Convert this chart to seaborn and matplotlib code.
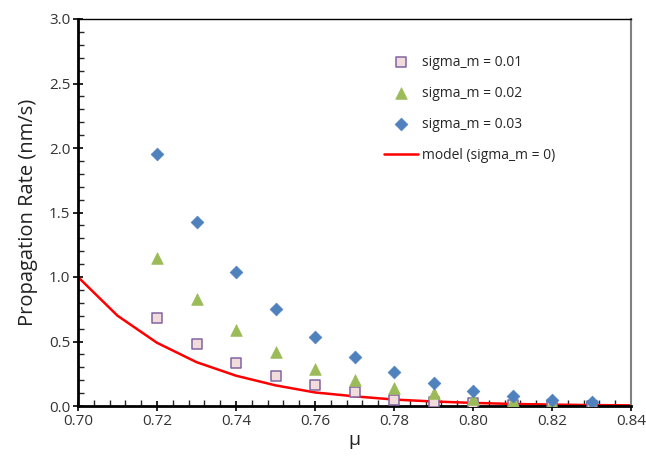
import matplotlib
matplotlib.use("Agg")
import matplotlib.pyplot as plt
from matplotlib.ticker import MultipleLocator, FormatStrFormatter
import seaborn as sns
import pandas as pd

mu_points = [0.72, 0.73, 0.74, 0.75, 0.76, 0.77, 0.78, 0.79, 0.80, 0.81, 0.82, 0.83]
rate_s001 = [0.68, 0.48, 0.335, 0.23, 0.16, 0.105, 0.05, 0.03, 0.02, 0.01, 0.005, 0.003]
rate_s002 = [1.15, 0.83, 0.59, 0.42, 0.29, 0.20, 0.14, 0.10, 0.055, 0.04, 0.02, 0.01]
rate_s003 = [1.95, 1.43, 1.04, 0.75, 0.535, 0.38, 0.26, 0.18, 0.12, 0.08, 0.05, 0.03]

mu_model = [0.70, 0.71, 0.72, 0.73, 0.74, 0.75, 0.76, 0.77, 0.78, 0.79, 0.80, 0.81, 0.82, 0.83, 0.84]
rate_model = [1.0, 0.70, 0.49, 0.34, 0.235, 0.16, 0.105, 0.075, 0.05, 0.035, 0.024, 0.016, 0.011, 0.007, 0.005]

labels = ["sigma_m = 0.01", "sigma_m = 0.02", "sigma_m = 0.03"]
model_label = "model (sigma_m = 0)"

sns.set_theme(style="white")
plt.rcParams['font.family'] = ['Open Sans', 'DejaVu Sans']

fig = plt.figure(figsize=(6.46, 4.57), dpi=100)
ax = fig.add_axes([78/646, 1 - 406/457, (631-78)/646, (406-19)/457])

df = pd.concat([
    pd.DataFrame({"mu": mu_points, "rate": rate_s001, "series": labels[0]}),
    pd.DataFrame({"mu": mu_points, "rate": rate_s002, "series": labels[1]}),
    pd.DataFrame({"mu": mu_points, "rate": rate_s003, "series": labels[2]}),
])
dfm = pd.DataFrame({"mu": mu_model, "rate": rate_model})

sns.lineplot(data=dfm, x="mu", y="rate", ax=ax, color="#FF0000", linewidth=1.8,
             label=model_label, zorder=2)

styles = {
    labels[0]: dict(marker="s", s=62, color="#F2DCDB", edgecolor="#8064A2", linewidth=1.1),
    labels[1]: dict(marker="^", s=70, color="#9BBB59", edgecolor="#9BBB59", linewidth=0.5),
    labels[2]: dict(marker="D", s=42, color="#4F81BD", edgecolor="#4F81BD", linewidth=0.5),
}
for lab in labels:
    sub = df[df["series"] == lab]
    sns.scatterplot(data=sub, x="mu", y="rate", ax=ax, label=lab, zorder=3, **styles[lab])

ax.set_xlim(0.70, 0.84)
ax.set_ylim(0, 3.0)
ax.xaxis.set_major_locator(MultipleLocator(0.02))
ax.xaxis.set_minor_locator(MultipleLocator(0.004))
ax.yaxis.set_major_locator(MultipleLocator(0.5))
ax.yaxis.set_minor_locator(MultipleLocator(0.1))
ax.xaxis.set_major_formatter(FormatStrFormatter("%.2f"))
ax.yaxis.set_major_formatter(FormatStrFormatter("%.1f"))

ax.tick_params(axis="both", which="major", direction="inout", length=7, width=1.2,
               labelsize=11, colors="#000000", labelcolor="#333333",
               bottom=True, left=True, top=False, right=False, pad=2)
ax.tick_params(axis="both", which="minor", direction="in", length=4, width=1.0,
               bottom=True, left=True, top=False, right=False)

for side in ["left", "bottom"]:
    ax.spines[side].set_color("black")
    ax.spines[side].set_linewidth(2.0)
ax.spines["top"].set_color("black")
ax.spines["top"].set_linewidth(1.0)
ax.spines["right"].set_color("#808080")
ax.spines["right"].set_linewidth(1.5)

ax.set_xlabel("μ", fontsize=14, color="#222222", labelpad=2)
ax.set_ylabel("Propagation Rate (nm/s)", fontsize=14.5, color="#222222", labelpad=8)

handles, hlabels = ax.get_legend_handles_labels()
order = [hlabels.index(l) for l in labels + [model_label]]
leg = ax.legend([handles[i] for i in order], [hlabels[i] for i in order],
                loc="upper left", bbox_to_anchor=(0.53, 0.94), frameon=False,
                fontsize=10, labelspacing=1.15, handlelength=2.5, handletextpad=0.3)

fig.savefig("out.png", dpi=100)
